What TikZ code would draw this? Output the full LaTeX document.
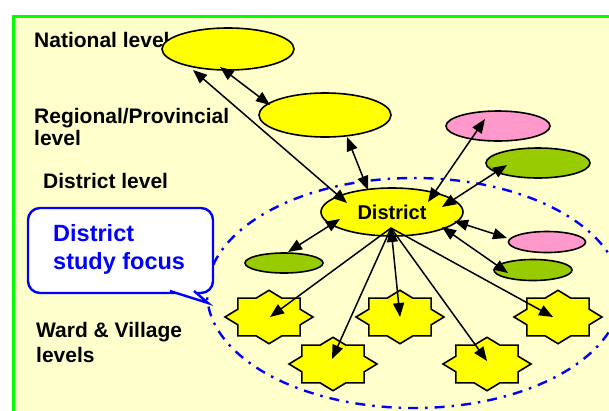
\documentclass[tikz,border=0pt]{standalone}
\usepackage{fontspec}
\setmainfont{Liberation Sans}
\usepackage{xcolor}
\usepackage{tikz}
\usetikzlibrary{shapes.geometric, arrows.meta}

\definecolor{paper}{HTML}{FFFFCC}
\definecolor{framegreen}{HTML}{00FF00}
\definecolor{focusblue}{HTML}{0000FF}
\definecolor{lvlyellow}{HTML}{FFFF00}
\definecolor{lvlpink}{HTML}{FF99CC}
\definecolor{lvlgreen}{HTML}{99CC00}

\tikzstyle{lvltext} = [anchor=base west, align=left, inner sep=0pt, font=\bfseries\fontsize{21}{22}\selectfont]
\tikzstyle{unit} = [ellipse, draw=black, line width=1.6pt, inner sep=0pt]
\tikzstyle{yellowunit} = [unit, fill=lvlyellow]
\tikzstyle{pinkunit} = [unit, fill=lvlpink]
\tikzstyle{greenunit} = [unit, fill=lvlgreen]
\tikzstyle{ward} = [draw=black, line width=1.6pt, fill=lvlyellow]
\tikzstyle{bubble} = [draw=focusblue, line width=2.4pt, fill=white]
\tikzstyle{arrow} = [line width=1.5pt, ->, >={Triangle[length=14pt,width=11pt]}]

\begin{document}
\begin{tikzpicture}[x=1pt, y=-1pt]
		\useasboundingbox (0,0) rectangle (609,410);
		\clip (0,0) rectangle (609,410);
		\fill[white] (0,0) rectangle (609,410);
		\draw[framegreen, line width=3pt, fill=paper] (13,16) rectangle (640,440);
		% boundary of the district study area
		\draw[focusblue, line width=2.4pt, dash pattern=on 10pt off 7pt on 2.5pt off 7pt] (414,293) ellipse [x radius=207pt, y radius=115pt];
		% level labels on the left (base = last line)
		\node (natlbl) [lvltext] at (34,47) {National level};
		\node (reglbl) [lvltext] at (34,145) {Regional/Provincial\\level};
		\node (dislbl) [lvltext] at (43,188) {District level};
		\node (wardlbl) [lvltext, font=\bfseries\fontsize{21}{25}\selectfont] at (36,362) {Ward \& Village\\levels};
		% callout
		\draw[bubble, rounded corners=12pt] (28,208) rectangle (213,293);
		\filldraw[bubble] (170,291) -- (208,303) -- (194,291);
		\node (focus) [anchor=base west, align=left, inner sep=0pt, text=focusblue, font=\bfseries\fontsize{23.5}{28}\selectfont] at (53,269) {District\\study focus};
		% administrative units
		\node (national) [yellowunit, minimum width=132pt, minimum height=42pt] at (228,49) {};
		\node (regional) [yellowunit, minimum width=132pt, minimum height=44pt] at (325,115) {};
		\node (district) [yellowunit, minimum width=142pt, minimum height=48pt, font=\bfseries\fontsize{20}{24}\selectfont] at (392,212) {District};
		\node (pinkA) [pinkunit, minimum width=104pt, minimum height=30pt] at (498,126) {};
		\node (greenA) [greenunit, minimum width=104pt, minimum height=30pt] at (538,163) {};
		\node (pinkB) [pinkunit, minimum width=77pt, minimum height=21pt] at (547,242) {};
		\node (greenB) [greenunit, minimum width=78pt, minimum height=21pt] at (533,270) {};
		\node (greenC) [greenunit, minimum width=78pt, minimum height=20pt] at (284,263) {};
		% wards and villages
		\foreach \n/\x/\y in {w1/269/317, w2/333/364, w3/400/317, w4/487/364, w5/558/317} {
			\coordinate (\n) at (\x,\y);
			\draw[ward, shift={(\x,\y)}] (0:44 and 26.7) \foreach \a in {22.5,67.5,...,337.5} { -- (\a:33.7 and 20.4) -- (\a+22.5:44 and 26.7) } -- cycle;
		}
		\draw [arrow,<->] ([shift={(-8,18)}]national.center) -- ([shift={(-55,-10)}]regional.center);
		\draw [arrow,<->] ([shift={(-35,21)}]national.center) -- ([shift={(-45,-9)}]district.center);
		\draw [arrow,<->] ([shift={(22,22)}]regional.center) -- ([shift={(-24,-22)}]district.center);
		\draw [arrow,<->] ([shift={(-13,-7)}]pinkA.center) -- ([shift={(36,-10)}]district.center);
		\draw [arrow,<->] ([shift={(-31,2)}]greenA.center) -- ([shift={(50,-5)}]district.center);
		\draw [arrow,<->] ([shift={(-40,-4)}]pinkB.center) -- ([shift={(62,9)}]district.center);
		\draw [arrow,<->] ([shift={(-25,3)}]greenB.center) -- ([shift={(50,15)}]district.center);
		\draw [arrow,<->] ([shift={(4,-11)}]greenC.center) -- ([shift={(-52,7)}]district.center);
		\draw [arrow] ([shift={(-1,16)}]district.center) -- ([shift={(1,0)}]w1);
		\draw [arrow] ([shift={(-1,16)}]district.center) -- ([shift={(-1,-5)}]w2);
		\draw [arrow,<->] ([shift={(-1,16)}]district.center) -- (w3);
		\draw [arrow] ([shift={(-1,16)}]district.center) -- ([shift={(0,-3)}]w4);
		\draw [arrow] ([shift={(-1,16)}]district.center) -- ([shift={(-5,0)}]w5);
	\end{tikzpicture}
\end{document}
